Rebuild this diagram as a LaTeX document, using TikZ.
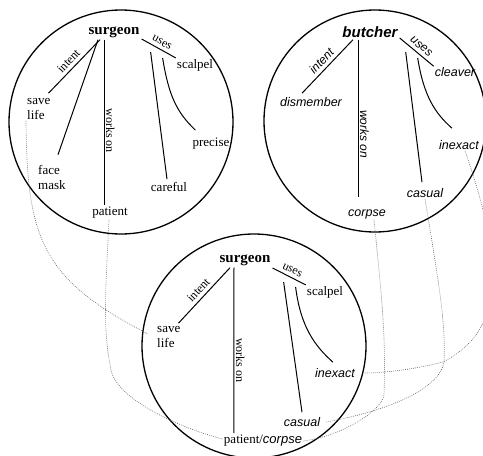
\documentclass[tikz,border=0pt]{standalone}
\usepackage{fontspec}
\setmainfont{Liberation Serif}
\setsansfont{Liberation Sans}
\usepackage{tikz}
\usepackage{xcolor}
\definecolor{linkgray}{RGB}{95, 95, 95}
\tikzset{
    concept/.style={font=\fontsize{15}{17}\selectfont\bfseries, inner sep=2pt},
    conceptsf/.style={font=\fontsize{15}{17}\selectfont\sffamily\bfseries\itshape, inner sep=2pt},
    term/.style={font=\fontsize{13}{15}\selectfont, inner sep=1pt, align=left},
    termsf/.style={font=\fontsize{12.5}{15}\selectfont\sffamily\itshape, inner sep=1pt},
    rel/.style={font=\fontsize{12}{14}\selectfont, inner sep=1.5pt},
    relsf/.style={font=\fontsize{12}{14}\selectfont\sffamily\itshape, inner sep=1.5pt},
    frame/.style={circle, draw, line width=1.3pt, inner sep=0pt, minimum size=224pt},
    arc/.style={line width=1pt},
    link/.style={linkgray, line width=0.6pt, dash pattern=on 0.8pt off 1.2pt}
}

\begin{document}
\begin{tikzpicture}[x=1pt, y=-1pt]
    \useasboundingbox (0,0) rectangle (483,456);
    \clip (0,0) rectangle (483,456);

    % Frames
    \node[frame] (c1) at (121,122) {};
    \node[frame, minimum size=222pt] (c2) at (375,121) {};
    \node[frame] (c3) at (254,346) {};

    % Surgeon
    \node[concept] (surg1) at (114,32) {surgeon};
    \node[term, anchor=west] (save1) at (26,109) {save\\life};
    \node[term, anchor=west] (face1) at (37,177) {face\\mask};
    \node[term] (pat1) at (110,213) {patient};
    \node[term] (scal1) at (195,65) {scalpel};
    \node[term] (prec1) at (211,144) {precise};
    \node[term] (care1) at (169,187) {careful};

    \draw[arc] ([xshift=-14pt]surg1.south) -- node[rel, sloped, above=2pt] {intent} ([xshift=-3pt,yshift=4pt]save1.north east);
    \draw[arc] ([xshift=-16pt]surg1.south) -- ([xshift=21pt,yshift=9pt]face1.north west);
    \draw[arc] ([xshift=-10pt]surg1.south) -- node[rel, pos=0.55, rotate=-90, anchor=south] {works on} ([xshift=-6pt,yshift=1pt]pat1.north);
    \draw[arc] ([yshift=-7pt]surg1.east) -- node[rel, sloped, above=2pt] {uses} (scal1.north west);
    \draw[arc] ([xshift=9pt,yshift=-20pt]surg1.east) -- ([xshift=-2pt,yshift=2pt]care1.north);
    \draw[arc] ([xshift=21pt,yshift=-26pt]surg1.east) .. controls +(6,37) and +(-19,-18) .. ([xshift=4pt,yshift=7pt]prec1.north west);

    % Butcher
    \node[conceptsf] (butch) at (370,32) {butcher};
    \node[termsf] (dism) at (311,102) {dismember};
    \node[termsf] (corp2) at (367,214) {corpse};
    \node[termsf] (clea) at (455,72) {cleaver};
    \node[termsf] (inex2) at (459,145) {inexact};
    \node[termsf] (casu2) at (425,193) {casual};

    \draw[arc] ([xshift=-17pt]butch.south) -- node[relsf, sloped, above=2pt] {intent} ([xshift=-9pt,yshift=3pt]dism.north);
    \draw[arc] ([xshift=-12pt]butch.south) -- node[relsf, pos=0.6, rotate=-90, anchor=south] {works on} ([xshift=-9pt,yshift=11pt]corp2.north);
    \draw[arc] ([yshift=-6pt]butch.east) -- node[relsf, sloped, above=2pt] {uses} (clea.north west);
    \draw[arc] ([xshift=6pt,yshift=-20pt]butch.east) -- ([xshift=-3pt,yshift=5pt]casu2.north);
    \draw[arc] ([xshift=18pt,yshift=-26pt]butch.east) .. controls +(6,38) and +(-17,-15) .. ([xshift=-7pt,yshift=11pt]inex2.north);

    % Surgeon, mixed
    \node[concept] (surg3) at (245,260) {surgeon};
    \node[term, anchor=west] (save3) at (156,337) {save\\life};
    \node[term] (pc3) at (263,441) {patient/{\sffamily\itshape corpse}};
    \node[term] (scal3) at (325,292) {scalpel};
    \node[termsf] (inex3) at (335,373) {inexact};
    \node[termsf] (casu3) at (302,422) {casual};

    \draw[arc] ([xshift=-15pt]surg3.south) -- node[rel, sloped, above=2pt] {intent} ([xshift=-3pt,yshift=2pt]save3.north east);
    \draw[arc] ([xshift=-11pt]surg3.south) -- node[rel, pos=0.56, rotate=-90, anchor=south] {works on} ([xshift=11pt,yshift=1pt]pc3.north west);
    \draw[arc] ([yshift=-8pt]surg3.east) -- node[rel, sloped, above=2pt] {uses} (scal3.north west);
    \draw[arc] ([xshift=11pt,yshift=-22pt]surg3.east) -- ([yshift=4pt]casu3.north);
    \draw[arc] ([xshift=23pt,yshift=-27pt]surg3.east) .. controls +(5,40) and +(-18,-16) .. ([xshift=-2pt,yshift=5pt]inex3.north);

    % Links
    \coordinate (bend1) at (111,370);
    \coordinate (bend2) at (384,395);
    \coordinate (bend3) at (444,362);
    \coordinate (bend4) at (443,362);
    \draw[link] (save1.south west) .. controls +(1,117) and +(-107,-55) .. ([xshift=-8pt,yshift=3pt]save3.west);
    \draw[link] ([xshift=-1pt]pat1.south) .. controls +(-4,80) and +(-8,-40) .. (bend1) .. controls +(6,30) and +(-40,-10) .. ([yshift=2pt]pc3.west);
    \draw[link] ([xshift=7pt]corp2.south) .. controls +(8,80) and +(2,-60) .. (bend2) .. controls +(-2,15) and +(40,-5) .. (pc3.east);
    \draw[link] (casu2.south) .. controls +(13,80) and +(2,-40) .. (bend3) .. controls +(-3,23) and +(72,-13) .. ([xshift=5pt]casu3.east);
    \draw[link] ([xshift=6pt]inex2.south) .. controls +(40,115) and +(62,-32) .. (bend4) .. controls +(-23,6) and +(25,0) .. ([xshift=8pt]inex3.east);
\end{tikzpicture}
\end{document}
